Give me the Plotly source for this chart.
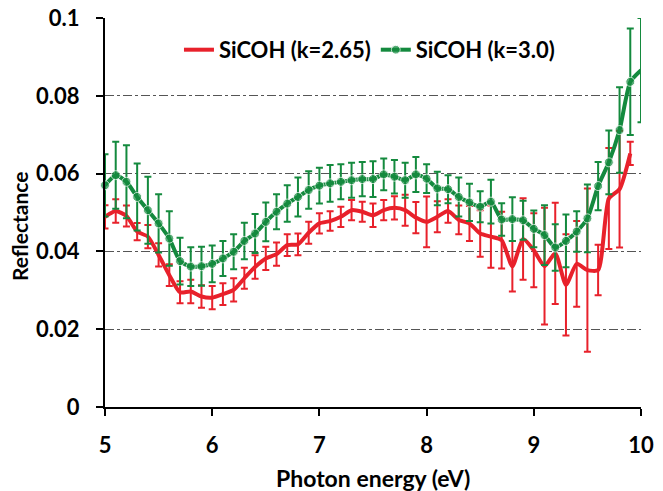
import plotly.graph_objects as go

energy = [5.0, 5.1, 5.2, 5.3, 5.4, 5.5, 5.6, 5.7, 5.8, 5.9,
          6.0, 6.1, 6.2, 6.3, 6.4, 6.5, 6.6, 6.7, 6.8, 6.9,
          7.0, 7.1, 7.2, 7.3, 7.4, 7.5, 7.6, 7.7, 7.8, 7.9,
          8.0, 8.1, 8.2, 8.3, 8.4, 8.5, 8.6, 8.7, 8.8, 8.9,
          9.0, 9.1, 9.2, 9.3, 9.4, 9.5, 9.6, 9.7, 9.8, 9.9, 10.0]

# SiCOH (k=3.0)
refl_k30 = [0.0570, 0.0596, 0.0579, 0.0540, 0.0506, 0.0472, 0.0433, 0.0375, 0.0361, 0.0362,
            0.0368, 0.0382, 0.0399, 0.0427, 0.0446, 0.0476, 0.0502, 0.0523, 0.0540, 0.0558,
            0.0569, 0.0575, 0.0579, 0.0583, 0.0586, 0.0586, 0.0598, 0.0592, 0.0583, 0.0598,
            0.0587, 0.0562, 0.0560, 0.0540, 0.0526, 0.0515, 0.0528, 0.0482, 0.0483, 0.0480,
            0.0458, 0.0442, 0.0410, 0.0427, 0.0451, 0.0485, 0.0568, 0.0629, 0.0712, 0.0836, 0.0866]
err_k30 = [0.0080, 0.0086, 0.0094, 0.0086, 0.0086, 0.0075, 0.0070, 0.0060, 0.0050, 0.0050,
           0.0047, 0.0045, 0.0045, 0.0047, 0.0050, 0.0050, 0.0045, 0.0047, 0.0050, 0.0048,
           0.0046, 0.0047, 0.0045, 0.0045, 0.0044, 0.0046, 0.0041, 0.0043, 0.0045, 0.0045,
           0.0037, 0.0043, 0.0036, 0.0050, 0.0048, 0.0040, 0.0056, 0.0042, 0.0056, 0.0050,
           0.0047, 0.0077, 0.0060, 0.0068, 0.0052, 0.0087, 0.0062, 0.0082, 0.0110, 0.0137, 0.0134]

# SiCOH (k=2.65)
refl_k265 = [0.0489, 0.0504, 0.0491, 0.0451, 0.0438, 0.0391, 0.0339, 0.0295, 0.0297, 0.0284,
             0.0281, 0.0290, 0.0301, 0.0331, 0.0360, 0.0382, 0.0393, 0.0416, 0.0418, 0.0448,
             0.0472, 0.0478, 0.0489, 0.0506, 0.0502, 0.0493, 0.0506, 0.0512, 0.0506, 0.0487,
             0.0476, 0.0489, 0.0504, 0.0481, 0.0472, 0.0446, 0.0438, 0.0429, 0.0362, 0.0432,
             0.0403, 0.0362, 0.0395, 0.0314, 0.0368, 0.0352, 0.0352, 0.0536, 0.0560, 0.0652]
err_k265 = [0.0030, 0.0030, 0.0027, 0.0022, 0.0030, 0.0030, 0.0028, 0.0028, 0.0030, 0.0029,
            0.0030, 0.0028, 0.0030, 0.0027, 0.0030, 0.0030, 0.0030, 0.0028, 0.0028, 0.0028,
            0.0026, 0.0025, 0.0026, 0.0026, 0.0026, 0.0030, 0.0026, 0.0030, 0.0040, 0.0040,
            0.0065, 0.0040, 0.0030, 0.0037, 0.0045, 0.0060, 0.0080, 0.0073, 0.0065, 0.0105,
            0.0095, 0.0150, 0.0130, 0.0130, 0.0110, 0.0210, 0.0065, 0.0130, 0.0150, 0.0030]

x_ticks = [5, 6, 7, 8, 9, 10]
y_ticks = [0, 0.02, 0.04, 0.06, 0.08, 0.1]
y_tick_text = ["0", "0.02", "0.04", "0.06", "0.08", "0.1"]

RED = "#e8212b"
GREEN = "#148a3e"
FONT = "Lato"

fig = go.Figure()
fig.add_trace(go.Scatter(
    x=energy[:len(refl_k265)], y=refl_k265, name="SiCOH (k=2.65)",
    mode="lines", line=dict(color=RED, width=4, shape="spline", smoothing=0.6),
    error_y=dict(type="data", array=err_k265, color=RED, thickness=2, width=3.5),
    cliponaxis=False,
))
marker_sizes = [9] * (len(energy) - 1) + [0]
fig.add_trace(go.Scatter(
    x=energy, y=refl_k30, name="SiCOH (k=3.0)",
    mode="lines+markers", line=dict(color=GREEN, width=4, shape="spline", smoothing=0.6),
    marker=dict(color=GREEN, size=marker_sizes),
    error_y=dict(type="data", array=err_k30, color=GREEN, thickness=2, width=3.5),
    cliponaxis=False,
))

fig.update_layout(
    width=663, height=491,
    margin=dict(l=105, r=22, t=18, b=84, autoexpand=False),
    plot_bgcolor="white", paper_bgcolor="white",
    font=dict(family=FONT, size=22, color="black", weight="bold"),
    showlegend=True,
    legend=dict(orientation="h", x=0.138, y=0.918, xanchor="left", yanchor="middle",
                font=dict(family=FONT, size=22, weight="bold"), bgcolor="rgba(0,0,0,0)",
                itemwidth=30, tracegroupgap=0),
    xaxis=dict(range=[5, 10], tickvals=x_ticks, showgrid=False, zeroline=False,
               showline=True, linecolor="black", linewidth=2, ticks="outside", ticklen=7,
               tickwidth=2, tickcolor="black", automargin=False, ticklabelstandoff=11,
               ticklabeloverflow="allow"),
    yaxis=dict(range=[0, 0.10001], tickvals=y_ticks, ticktext=y_tick_text,
               showgrid=True, gridcolor="#555555", gridwidth=1, griddash="dashdot",
               zeroline=False, showline=True, linecolor="black", linewidth=2,
               ticks="outside", ticklen=7, tickwidth=2, tickcolor="black", automargin=False,
               ticklabelstandoff=12, ticklabeloverflow="allow"),
    annotations=[
        dict(text="Photon energy (eV)", xref="paper", yref="paper", x=0.5, y=-0.1825,
             xanchor="center", yanchor="middle", showarrow=False,
             font=dict(family=FONT, size=23, weight="bold")),
        dict(text="Reflectance", xref="paper", yref="paper", x=-0.1586, y=0.4653,
             xanchor="center", yanchor="middle", showarrow=False, textangle=-90,
             font=dict(family=FONT, size=21, weight="bold")),
    ],
)

fig.write_html("out.html", config={"displayModeBar": False},
               post_script="document.body.style.margin='0';")
